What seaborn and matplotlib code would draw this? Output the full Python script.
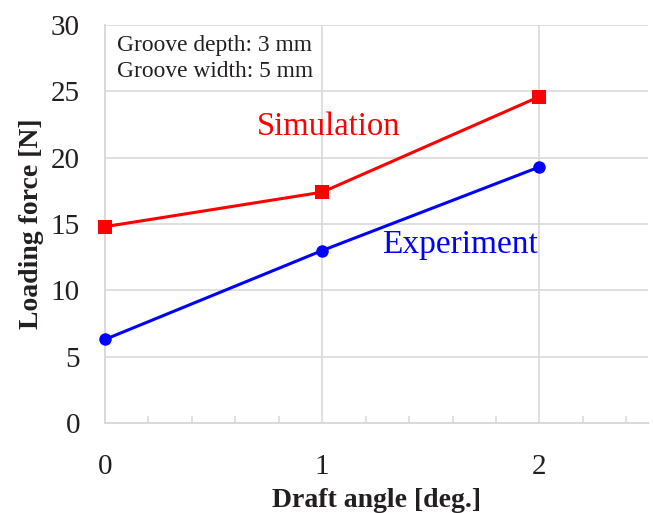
import matplotlib
matplotlib.use("Agg")
import matplotlib.pyplot as plt
import seaborn as sns
import pandas as pd
from matplotlib.ticker import MultipleLocator, FixedLocator

angles = [0, 1, 2]
simulation = [14.8, 17.4, 24.6]
experiment = [6.3, 13.0, 19.3]
x_ticks = [0, 1, 2]
y_ticks = [0, 5, 10, 15, 20, 25, 30]

sns.set_theme(style="white")
plt.rcParams['font.family'] = ['Liberation Serif', 'DejaVu Serif']

df_sim = pd.DataFrame({"angle": angles, "force": simulation})
df_exp = pd.DataFrame({"angle": angles, "force": experiment})

fig = plt.figure(figsize=(6.53, 5.13), dpi=100)
ax = fig.add_axes([105/653, 90/513, 543/653, 398/513])

grid_c = "#d9d9d9"
sns.lineplot(data=df_sim, x="angle", y="force", ax=ax, color="#ff0000",
             linewidth=2.2, marker="s", markersize=10.5, markeredgewidth=0, zorder=3,
             clip_on=False)
sns.lineplot(data=df_exp, x="angle", y="force", ax=ax, color="#0000ff",
             linewidth=2.2, marker="o", markersize=9, markeredgewidth=0, zorder=3,
             clip_on=False)

ax.set_xlim(0, 2.5)
ax.set_ylim(0, 30)
ax.xaxis.set_major_locator(FixedLocator(x_ticks))
ax.yaxis.set_major_locator(FixedLocator(y_ticks))
ax.xaxis.set_minor_locator(MultipleLocator(0.2))
ax.grid(True, which="major", color=grid_c, linewidth=1.2, zorder=0)
ax.set_axisbelow(True)

for s in ["top", "right"]:
    ax.spines[s].set_visible(False)
for s in ["left", "bottom"]:
    ax.spines[s].set_color(grid_c)
    ax.spines[s].set_linewidth(1.4)

ax.tick_params(axis="x", which="major", length=0, pad=22, labelsize=21, labelcolor="#231f20")
ax.tick_params(axis="x", which="minor", direction="in", length=5, width=1.2, color=grid_c, bottom=True)
ax.tick_params(axis="y", which="major", length=0, pad=18, labelsize=21, labelcolor="#231f20")

ax.set_xlabel("Draft angle [deg.]", fontsize=20, fontweight="bold", color="#231f20", labelpad=6)
ax.set_ylabel("Loading force [N]", fontsize=20, fontweight="bold", color="#231f20", labelpad=5)

ax.text(0.055, 27.45, "Groove depth: 3 mm\nGroove width: 5 mm", fontsize=16.8,
        color="#231f20", va="center", ha="left", linespacing=1.3)
ax.text(1.03, 22.3, "Simulation", fontsize=23.5, color="#ff0000", ha="center", va="center")
ax.text(1.636, 13.4, "Experiment", fontsize=24, color="#0000ff", ha="center", va="center")

fig.savefig("out.png", dpi=100)
